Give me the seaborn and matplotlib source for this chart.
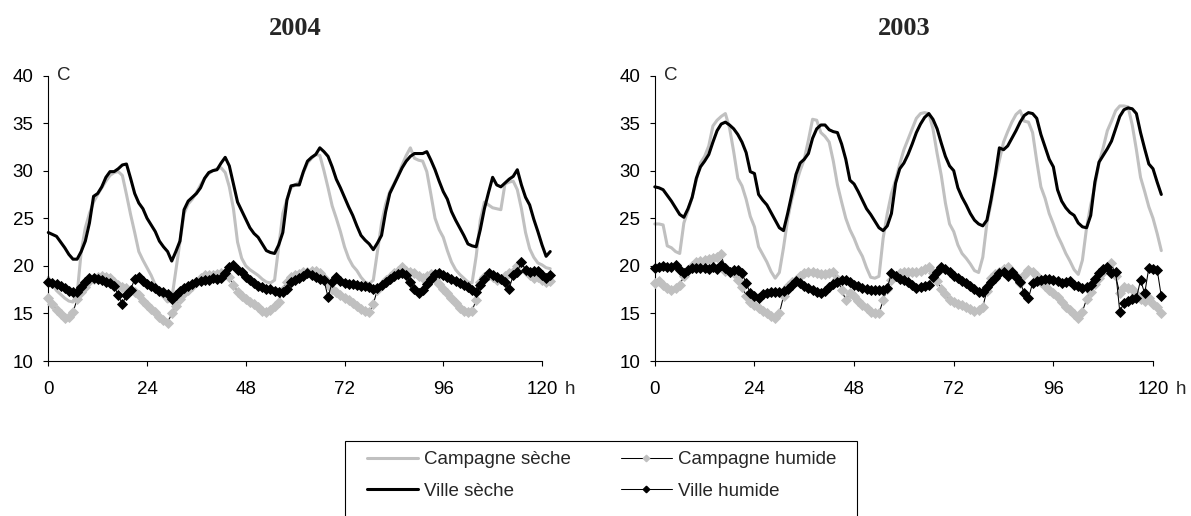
import numpy as np
import pandas as pd
import matplotlib
matplotlib.use("Agg")
import matplotlib.pyplot as plt
from matplotlib.lines import Line2D
from matplotlib.patches import Rectangle
import seaborn as sns

# Hourly air temperatures (deg C) over five days, hour 0 = start of record
campagne_seche_2004 = [
    18.8, 18.0, 17.4, 17.0, 16.6, 16.3, 16.2, 17.0, 21.5, 24.0, 25.5, 26.7, 27.5, 28.2, 28.9, 29.5,
    29.8, 29.9, 29.5, 27.5, 25.4, 23.5, 21.5, 20.6, 19.8, 19.0, 18.0, 17.2, 16.7, 16.2, 16.5, 19.5,
    22.5, 25.5, 26.5, 27.0, 27.7, 28.5, 29.2, 29.7, 30.0, 30.2, 30.3, 29.8, 28.3, 26.0, 22.5, 20.8,
    20.0, 19.6, 19.3, 19.0, 18.6, 18.3, 18.2, 18.5, 22.0, 25.5, 27.0, 28.2, 28.5,
    28.8, 29.8, 30.8, 31.3, 31.7, 31.6, 30.0, 28.2, 26.3, 25.0, 23.6, 22.0, 20.8, 20.0, 19.5, 18.8,
    18.3, 18.1, 18.5, 21.5, 24.5, 26.5, 27.8, 28.6, 29.5, 30.6, 31.6, 32.4, 31.3, 31.1, 31.0, 29.9,
    27.5, 25.0, 23.8, 23.0, 21.6, 20.4, 19.6, 19.1, 18.7, 18.3, 18.2, 21.0, 24.8, 26.7, 26.4, 26.1,
    26.0, 25.9, 28.6, 28.8, 28.9, 28.0, 26.0, 23.5, 21.8, 20.9, 20.3, 20.1, 19.8, 19.7,
]
campagne_humide_2004 = [
    16.6, 16.0, 15.4, 14.9, 14.5, 14.6, 15.1, 16.5, 17.3, 17.8, 18.4, 18.6, 18.8, 18.9, 18.8, 18.7,
    18.3, 18.0, 17.8, 17.7, 17.5, 17.2, 16.9, 16.3, 15.9, 15.5, 15.1, 14.6, 14.3, 14.0, 15.0, 15.8,
    16.5, 17.1, 17.5, 17.9, 18.3, 18.7, 19.0, 19.0, 19.0, 19.1, 19.2, 19.2, 18.8, 18.0, 17.3, 16.8,
    16.5, 16.2, 16.0, 15.7, 15.3, 15.1, 15.4, 15.8, 16.2, 17.5, 18.3, 18.8, 19.0,
    19.1, 19.3, 19.4, 19.5, 19.5, 19.2, 18.7, 18.1, 17.6, 17.2, 16.9, 16.6, 16.4, 16.1, 15.8, 15.5,
    15.3, 15.1, 16.0, 17.5, 18.0, 18.5, 18.8, 19.2, 19.5, 19.9, 19.5, 19.3, 19.2, 18.9, 18.7, 18.9,
    19.1, 18.6, 18.1, 17.6, 17.1, 16.6, 16.1, 15.6, 15.3, 15.1, 15.3, 16.4, 18.3, 18.8, 19.0, 18.8,
    18.5, 18.6, 18.9, 19.2, 19.4, 20.0, 20.4, 19.5, 19.0, 18.7, 18.8, 18.5, 18.3, 18.4,
]
ville_seche_2004 = [
    23.5, 23.3, 23.1, 22.5, 21.9, 21.2, 20.7, 20.7, 21.5, 22.6, 24.5, 27.3, 27.6, 28.3, 29.3, 29.9,
    29.9, 30.2, 30.6, 30.7, 29.2, 27.6, 26.6, 26.0, 25.0, 24.3, 23.6, 22.6, 22.0, 21.5, 20.5, 21.5,
    22.6, 25.9, 26.8, 27.2, 27.6, 28.2, 29.2, 29.8, 30.0, 30.1, 30.8, 31.4, 30.5, 28.6, 26.7, 25.8,
    24.9, 24.0, 23.4, 23.0, 22.3, 21.6, 21.4, 21.3, 22.2, 23.5, 26.9, 28.4, 28.5,
    28.5, 29.9, 31.0, 31.4, 31.7, 32.4, 32.0, 31.5, 30.4, 29.1, 28.2, 27.2, 26.2, 25.3, 24.2, 23.2,
    22.7, 22.3, 21.7, 22.4, 23.2, 25.7, 27.6, 28.5, 29.4, 30.3, 31.0, 31.5, 31.8, 31.8, 31.8, 32.0,
    31.1, 30.1, 28.9, 27.8, 27.0, 25.7, 24.8, 24.0, 23.2, 22.3, 22.1, 22.0, 23.8, 26.0, 27.7, 29.3,
    28.5, 28.3, 28.7, 29.1, 29.4, 30.1, 28.5, 27.2, 26.4, 24.9, 23.6, 22.2, 21.0, 21.5,
]
ville_humide_2004 = [
    18.3, 18.2, 18.1, 17.9, 17.7, 17.4, 17.3, 17.3, 17.8, 18.3, 18.7, 18.7, 18.6, 18.5, 18.3, 18.2,
    17.9, 16.9, 16.0, 16.9, 17.5, 18.6, 18.8, 18.4, 18.1, 17.9, 17.7, 17.4, 17.2, 17.0, 16.5, 16.9,
    17.4, 17.7, 17.9, 18.1, 18.3, 18.4, 18.5, 18.5, 18.7, 18.6, 18.7, 19.2, 19.9, 20.1, 19.6, 19.3,
    18.8, 18.5, 18.2, 17.9, 17.8, 17.6, 17.6, 17.4, 17.3, 17.2, 17.6, 18.3, 18.5,
    18.7, 18.9, 19.2, 19.0, 18.8, 18.6, 18.5, 16.7, 18.3, 18.8, 18.4, 18.2, 18.1, 18.1, 18.0, 17.9,
    17.9, 17.8, 17.6, 17.7, 18.0, 18.3, 18.6, 18.9, 19.1, 19.2, 19.0, 18.3, 17.6, 17.1, 17.5, 18.1,
    18.6, 19.1, 19.2, 19.0, 18.8, 18.6, 18.4, 18.2, 18.0, 17.8, 17.5, 17.2, 18.0, 18.6, 19.2, 19.0,
    18.8, 18.6, 18.3, 17.6, 19.0, 19.4, 20.4, 19.6, 19.4, 19.5, 19.5, 19.0, 18.7, 19.0,
]

campagne_seche_2003 = [
    24.4, 24.4, 24.3, 22.1, 21.9, 21.5, 21.3, 24.5, 25.8, 27.2, 29.0, 30.8, 31.5, 32.6, 34.7, 35.3,
    35.7, 36.0, 34.5, 32.0, 29.2, 28.4, 27.0, 25.2, 24.1, 22.0, 21.2, 20.4, 19.4, 18.7, 19.3, 21.9,
    24.9, 27.0, 28.6, 30.0, 31.2, 33.2, 35.4, 35.3, 34.0, 33.6, 33.0, 31.0, 28.5, 26.7, 25.0, 23.8,
    22.9, 21.8, 21.0, 19.8, 18.8, 18.7, 18.9, 22.9, 25.5, 27.6, 29.0, 30.7, 32.2, 33.3, 34.4, 35.5,
    36.0, 36.1, 36.0, 34.4, 31.8, 29.5, 26.6, 24.4, 23.6, 22.2, 21.3, 20.8, 20.2, 19.5, 19.3, 20.9,
    24.5, 26.6, 29.2, 31.1, 33.0, 34.1, 35.1, 35.9, 36.3, 35.2, 35.1, 34.0, 31.0, 28.3, 27.1, 25.5,
    24.4, 23.2, 22.3, 21.3, 20.5, 19.6, 19.1, 20.6, 24.0, 26.4, 28.4, 30.8, 32.4, 34.2, 35.2, 36.3,
    36.8, 36.8, 36.7, 34.8, 32.2, 29.3, 27.8, 26.2, 25.0, 23.4, 21.6,
]
campagne_humide_2003 = [
    18.2, 18.4, 18.0, 17.7, 17.5, 17.7, 18.0, 18.9, 19.6, 20.0, 20.4, 20.5, 20.6, 20.7, 20.8, 20.9,
    21.2, 19.5, 19.3, 19.2, 18.5, 17.8, 16.8, 16.2, 15.9, 15.6, 15.3, 15.0, 14.7, 14.5, 15.0, 16.8,
    17.9, 18.3, 18.5, 18.9, 19.2, 19.4, 19.3, 19.2, 19.1, 19.1, 19.2, 19.4, 18.6, 17.5, 16.4, 17.1,
    16.8, 16.3, 15.9, 15.6, 15.1, 15.0, 15.0, 16.4, 17.6, 18.5, 18.9, 19.2, 19.4, 19.4, 19.4, 19.3,
    19.5, 19.7, 19.9, 19.2, 18.4, 17.6, 17.0, 16.4, 16.2, 16.0, 15.9, 15.7, 15.5, 15.3, 15.4, 15.7,
    17.4, 18.7, 19.1, 19.4, 19.7, 19.9, 19.4, 18.9, 18.2, 19.0, 19.6, 19.3, 18.9, 18.3, 17.9, 17.5,
    17.1, 16.7, 16.2, 15.7, 15.4, 14.9, 14.5, 15.2, 16.5, 17.3, 18.1, 18.7, 19.3, 19.8, 20.3, 18.9,
    17.1, 17.8, 17.7, 17.6, 17.0, 16.5, 16.3, 16.6, 16.0, 15.7, 15.0,
]
ville_seche_2003 = [
    28.3, 28.2, 28.0, 27.4, 26.8, 26.1, 25.4, 25.1, 26.0, 27.2, 29.2, 30.4, 31.0, 31.7, 33.0, 34.2,
    34.9, 35.1, 34.8, 34.4, 33.8, 33.0, 31.9, 29.9, 29.7, 27.5, 26.9, 26.4, 25.6, 24.8, 24.0, 23.7,
    25.5, 27.5, 29.6, 30.8, 31.2, 31.8, 33.4, 34.4, 34.8, 34.8, 34.3, 34.1, 34.0, 32.8, 31.2, 29.0,
    28.6, 27.8, 26.9, 26.0, 25.4, 24.7, 24.0, 23.7, 24.2, 25.5, 28.7, 30.2, 30.8, 31.7, 32.8, 34.0,
    34.9, 35.6, 36.0, 35.4, 34.4, 32.9, 31.5, 30.5, 30.0, 28.2, 27.2, 26.4, 25.5, 24.8, 24.4, 24.2,
    24.8, 27.0, 29.5, 32.4, 32.2, 32.6, 33.4, 34.2, 35.1, 35.8, 36.1, 36.0, 35.5, 33.8, 32.5, 31.2,
    30.4, 28.0, 26.8, 26.1, 25.6, 25.3, 24.5, 24.1, 24.0, 25.3, 28.8, 30.9, 31.6, 32.3, 33.1, 34.4,
    35.7, 36.4, 36.6, 36.5, 36.0, 34.0, 32.3, 30.7, 30.2, 28.8, 27.5,
]
ville_humide_2003 = [
    19.8, 19.9, 20.0, 19.9, 19.9, 20.1, 19.6, 19.2, 19.6, 19.8, 19.8, 19.8, 19.8, 19.7, 19.9, 19.7,
    20.1, 19.8, 19.4, 19.6, 19.6, 19.2, 18.2, 17.1, 16.8, 16.6, 17.0, 17.1, 17.2, 17.3, 17.2, 17.4,
    17.6, 18.0, 18.4, 18.2, 17.9, 17.7, 17.5, 17.3, 17.1, 17.4, 17.8, 18.1, 18.3, 18.5, 18.5, 18.3,
    18.0, 17.9, 17.7, 17.6, 17.5, 17.5, 17.5, 17.5, 17.7, 19.2, 18.9, 18.6, 18.5, 18.3, 18.0, 17.7,
    17.8, 17.9, 18.0, 18.8, 19.4, 19.9, 19.7, 19.4, 18.9, 18.7, 18.4, 18.2, 17.9, 17.6, 17.2, 17.3,
    17.8, 18.3, 18.7, 19.2, 19.3, 18.9, 19.4, 18.8, 18.3, 17.1, 16.6, 18.2, 18.4, 18.5, 18.6, 18.6,
    18.5, 18.4, 18.2, 18.3, 18.4, 18.0, 17.9, 17.7, 17.8, 18.0, 18.6, 19.2, 19.7, 19.9, 19.2, 19.4,
    15.2, 16.1, 16.3, 16.5, 16.6, 18.5, 17.1, 19.8, 19.7, 19.6, 16.8,
]

series_names = ["Campagne sèche", "Campagne humide", "Ville sèche", "Ville humide"]
panel_titles = ["2004", "2003"]
hour_ticks = [0, 24, 48, 72, 96, 120]
temp_ticks = [10, 15, 20, 25, 30, 35, 40]

sns.set_style("ticks")
plt.rcParams["font.family"] = ["Liberation Sans", "DejaVu Sans"]

GRAY = "#c0c0c0"
FS = 13.5
MS = 4.6
W, H = 1191, 516

fig = plt.figure(figsize=(W / 100, H / 100), dpi=100)
ax04 = fig.add_axes([48.3 / W, 1 - 361 / H, 493.7 / W, 285.5 / H])
ax03 = fig.add_axes([654.8 / W, 1 - 361 / H, 498.2 / W, 285.5 / H])


def to_frame(values):
    return pd.DataFrame({"heure": np.arange(len(values)), "temp": values})


def draw_panel(ax, cs, ch, vs, vh, title):
    sns.lineplot(data=to_frame(cs), x="heure", y="temp", ax=ax, color=GRAY,
                 linewidth=2.2, errorbar=None, clip_on=False, zorder=2)
    sns.lineplot(data=to_frame(ch), x="heure", y="temp", ax=ax, color="black",
                 linewidth=0.75, marker="D", markersize=MS, markerfacecolor=GRAY,
                 markeredgecolor=GRAY, markeredgewidth=0.6, errorbar=None,
                 clip_on=False, zorder=3)
    sns.lineplot(data=to_frame(vs), x="heure", y="temp", ax=ax, color="black",
                 linewidth=2.2, errorbar=None, clip_on=False, zorder=4)
    sns.lineplot(data=to_frame(vh), x="heure", y="temp", ax=ax, color="black",
                 linewidth=0.75, marker="D", markersize=MS, markerfacecolor="black",
                 markeredgecolor="black", markeredgewidth=0.6, errorbar=None,
                 clip_on=False, zorder=5)

    ax.set_xlim(0, 120)
    ax.set_ylim(10, 40)
    ax.set_xticks(hour_ticks)
    ax.set_yticks(temp_ticks)
    ax.set_xlabel("")
    ax.set_ylabel("")
    sns.despine(ax=ax)
    for side in ("left", "bottom"):
        ax.spines[side].set_linewidth(0.8)
        ax.spines[side].set_color("black")
    ax.tick_params(direction="out", length=3.6, width=0.8, color="black",
                   labelsize=FS, labelcolor="black")
    ax.tick_params(axis="x", pad=11)
    ax.tick_params(axis="y", pad=7)

    ax.set_title(title, fontsize=19, fontweight="bold",
                 family=["Liberation Serif", "DejaVu Serif"], pad=29)
    ax.annotate("C", xy=(0, 40), xytext=(6.5, 0), textcoords="offset points",
                ha="left", va="center", fontsize=FS, annotation_clip=False)
    ax.annotate("h", xy=(120, 10), xytext=(16.5, -14.6), textcoords="offset points",
                ha="left", va="top", fontsize=FS, annotation_clip=False)


draw_panel(ax04, campagne_seche_2004, campagne_humide_2004,
           ville_seche_2004, ville_humide_2004, panel_titles[0])
draw_panel(ax03, campagne_seche_2003, campagne_humide_2003,
           ville_seche_2003, ville_humide_2003, panel_titles[1])

# shared legend below the panels
h_cs = Line2D([], [], color=GRAY, linewidth=2.2)
h_ch = Line2D([], [], color="black", linewidth=0.75, marker="D", markersize=3.3,
              markerfacecolor=GRAY, markeredgecolor=GRAY)
h_vs = Line2D([], [], color="black", linewidth=2.2)
h_vh = Line2D([], [], color="black", linewidth=0.75, marker="D", markersize=3.3,
              markerfacecolor="black", markeredgecolor="black")
fig.legend([h_cs, h_vs, h_ch, h_vh],
           [series_names[0], series_names[2], series_names[1], series_names[3]],
           loc="upper left", bbox_to_anchor=(367 / W, 1 - 451 / H), ncol=2,
           frameon=False, fontsize=FS, handlelength=2.72, handletextpad=0.32,
           columnspacing=2.67, labelspacing=0.78, borderpad=0, borderaxespad=0)
fig.add_artist(Rectangle((345 / W, -0.02), 512 / W, 1 - 441 / H + 0.02,
                         transform=fig.transFigure, fill=False,
                         edgecolor="black", linewidth=0.8))

fig.savefig("out.png", dpi=100)
